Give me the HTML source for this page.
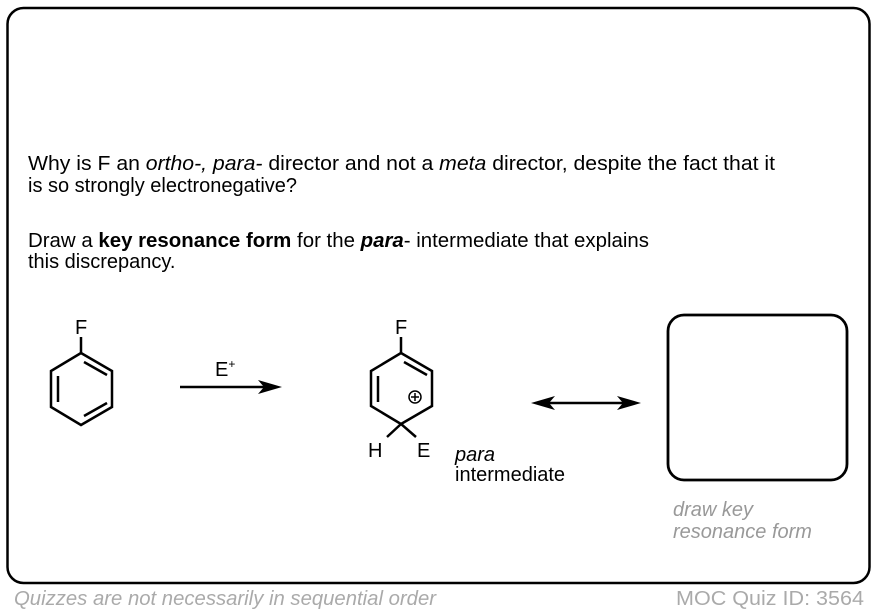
<!DOCTYPE html>
<html><head><meta charset="utf-8"><style>
html,body{margin:0;padding:0;background:#fff}
svg{display:block;font-family:"Liberation Sans",Arial,sans-serif}
</style></head><body>
<svg width="878" height="616" viewBox="0 0 878 616" xmlns="http://www.w3.org/2000/svg">
<rect x="7.5" y="8" width="862" height="575" rx="16" fill="none" stroke="#000" stroke-width="2.5"/>
<g font-size="20" fill="#000">
<text x="28" y="170" textLength="747" lengthAdjust="spacingAndGlyphs">Why is F an <tspan font-style="italic">ortho-, para-</tspan> director and not a <tspan font-style="italic">meta</tspan> director, despite the fact that it</text>
<text x="28" y="192">is so strongly electronegative?</text>
<text x="28" y="247" textLength="621" lengthAdjust="spacingAndGlyphs">Draw a <tspan font-weight="bold">key resonance form</tspan> for the  <tspan font-weight="bold" font-style="italic">para</tspan>- intermediate that explains</text>
<text x="28" y="268">this discrepancy.</text>
</g>
<g stroke="#000" stroke-width="2.5" fill="none" stroke-linejoin="miter">
<line x1="81" y1="337" x2="81" y2="353"/>
<polygon points="81,353 112,371 112,407 81,425 51,407 51,371"/>
<line x1="84" y1="362" x2="107" y2="375"/>
<line x1="58" y1="376" x2="58" y2="402"/>
<line x1="84" y1="416" x2="107" y2="403"/>
<line x1="401" y1="337" x2="401" y2="353"/>
<polyline points="387,437 401,424 371,406 371,371 401,353 432,371 432,406 401,424 416,437"/>
<line x1="404" y1="362" x2="427" y2="375"/>
<line x1="378" y1="376" x2="378" y2="402"/>
<circle cx="415" cy="397" r="6" stroke-width="1.5"/>
<line x1="411" y1="397" x2="419" y2="397" stroke-width="1.5"/>
<line x1="415" y1="393" x2="415" y2="401" stroke-width="1.5"/>
<line x1="180" y1="387" x2="268" y2="387"/>
<line x1="548" y1="403" x2="626" y2="403"/>
<rect x="668" y="315" width="179" height="165" rx="16" stroke-width="2.8"/>
</g>
<polygon points="282,387 258,380 264,387 258,394" fill="#000"/>
<polygon points="531,403 555,396 549,403 555,410" fill="#000"/>
<polygon points="641,403 617,396 623,403 617,410" fill="#000"/>
<g font-size="20" fill="#000">
<text x="75" y="334">F</text>
<text x="395" y="334">F</text>
<text x="215" y="376">E<tspan font-size="12" dy="-8">+</tspan></text>
<text x="368" y="457">H</text>
<text x="417" y="457">E</text>
<text x="455" y="461" font-style="italic">para</text>
<text x="455" y="481" font-size="20">intermediate</text>
</g>
<g font-size="20" fill="#999" font-style="italic">
<text x="673" y="516">draw key</text>
<text x="673" y="538">resonance form</text>
</g>
<text x="14" y="605" font-size="20" fill="#aaa" font-style="italic" textLength="422" lengthAdjust="spacingAndGlyphs">Quizzes are not necessarily in sequential order</text>
<text x="676" y="605" font-size="20" fill="#aaa" textLength="188" lengthAdjust="spacingAndGlyphs">MOC Quiz ID: 3564</text>
</svg>
</body></html>
